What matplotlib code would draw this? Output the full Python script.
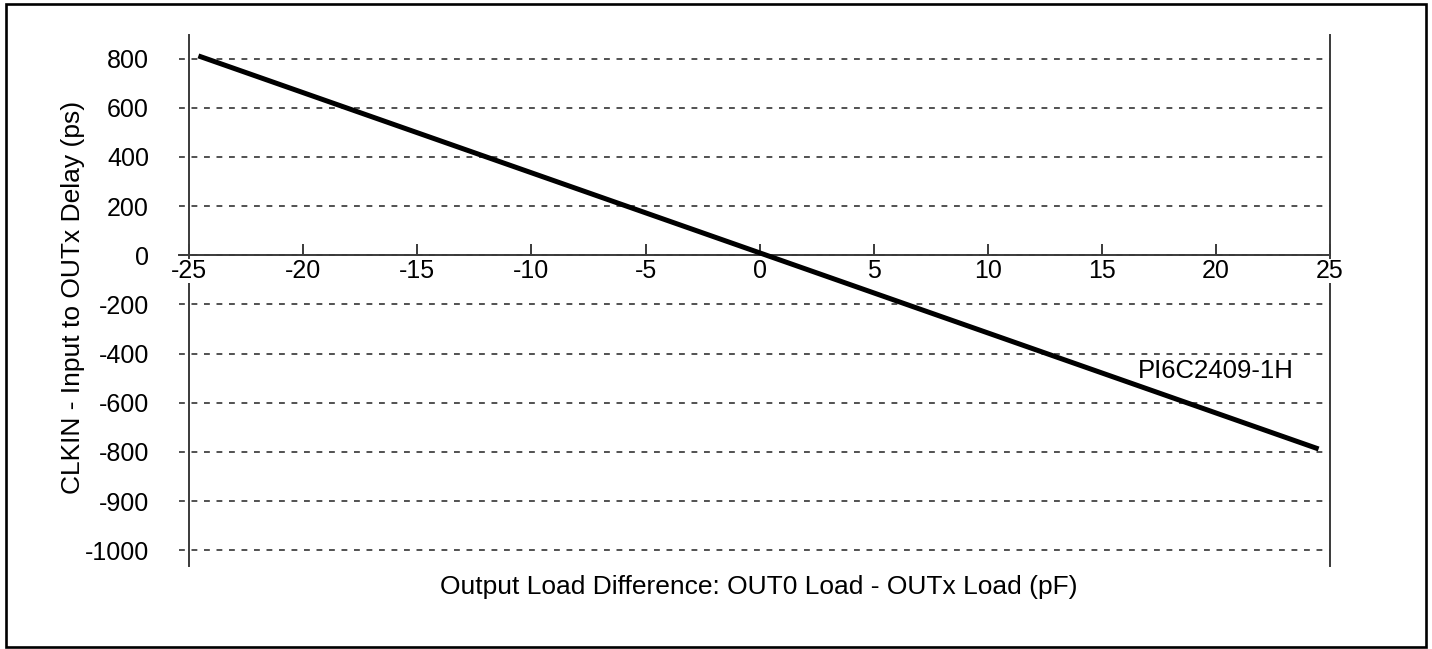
import numpy as np
import matplotlib
matplotlib.use("Agg")
import matplotlib.pyplot as plt
from matplotlib.patches import Rectangle

plt.rcParams["font.family"] = ["Liberation Sans", "DejaVu Sans"]

# ---------------------------------------------------------------- data
load_diff_pf = [-24.6, 24.5]          # OUT0 load - OUTx load
delay_ps = [811, -788]                # CLKIN -> OUTx delay
x_ticks = [-25, -20, -15, -10, -5, 0, 5, 10, 15, 20, 25]
y_tick_labels = ["800", "600", "400", "200", "0", "-200", "-400",
                 "-600", "-800", "-900", "-1000"]
series_label = "PI6C2409-1H"

# y axis is drawn as equally spaced steps (200 ps each in the used range)
PS_PER_STEP = 200.0
y_pos = np.arange(4, 4 - len(y_tick_labels), -1)

# ---------------------------------------------------------------- figure
W, H = 1432, 649
fig = plt.figure(figsize=(W / 100, H / 100), dpi=100)
ax = fig.add_axes([179 / W, (H - 566) / H, 1151 / W, 531 / H])

ax.plot(load_diff_pf, np.array(delay_ps) / PS_PER_STEP, color="black",
        lw=3.6, solid_capstyle="butt", zorder=4)
ax.text(16.6, -2.36, series_label, fontsize=18.5, ha="left", va="center")

ax.set_xlim(-25.45, 25)
ax.set_ylim(-6.32, 4.48)

spine_c = "#3a3a3a"
ax.spines["top"].set_visible(False)
ax.spines["left"].set_position(("data", -25))
ax.spines["bottom"].set_position(("data", 0))
for s in ("left", "right", "bottom"):
    ax.spines[s].set_color(spine_c)
    ax.spines[s].set_linewidth(1.4)
ax.spines["left"].set_zorder(2)
ax.spines["right"].set_zorder(2)

ax.set_xticks(x_ticks, [str(v) for v in x_ticks])
ax.tick_params(axis="x", direction="in", length=8, width=1.4,
               color=spine_c, pad=3, labelsize=18)
for lab in ax.get_xticklabels():
    lab.set_bbox(dict(facecolor="white", edgecolor="none", pad=0))
ax.xaxis.set_zorder(3)

ax.set_yticks(y_pos, y_tick_labels)
ax.tick_params(axis="y", length=0, pad=29, labelsize=18)
ax.grid(axis="y", color="#333333", lw=1.2, ls=(0, (3.5, 4)))

fig.text(73.5 / W, 1 - 297 / H, "CLKIN - Input to OUTx Delay (ps)",
         rotation=90, ha="center", va="center", fontsize=19)
fig.text(759 / W, 1 - 594 / H,
         "Output Load Difference: OUT0 Load - OUTx Load (pF)",
         ha="center", va="baseline", fontsize=19)

# outer frame
fig.patches.append(Rectangle((6 / W, 1 - 647 / H), 1420 / W, 643 / H,
                             transform=fig.transFigure, fill=False,
                             edgecolor="black", lw=1.9))

fig.savefig("out.png", dpi=100)
